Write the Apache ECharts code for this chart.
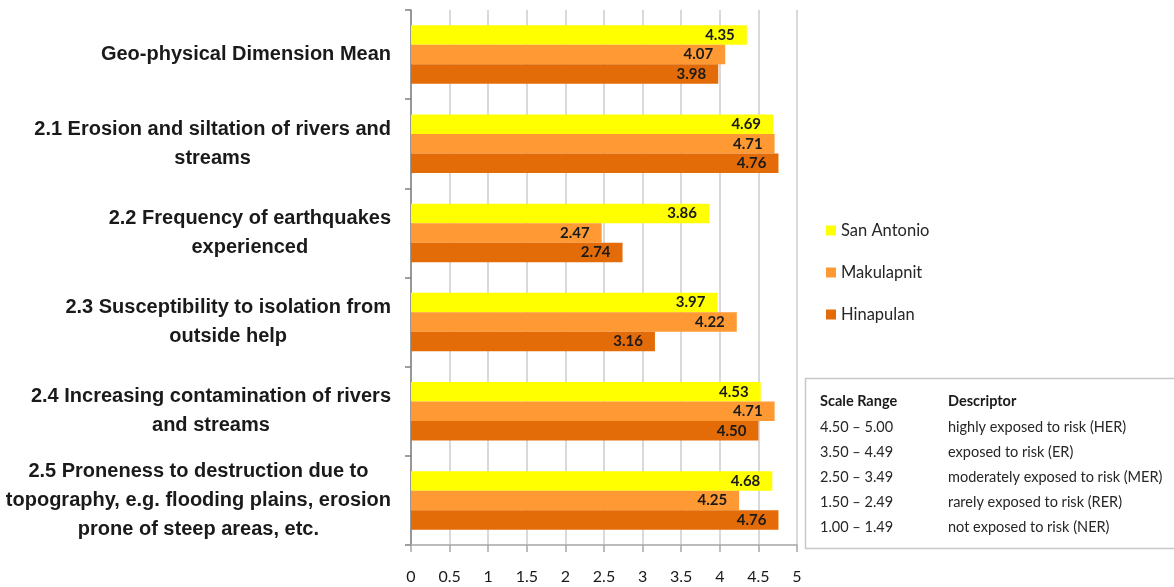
<!DOCTYPE html>
<html>
<head>
<meta charset="utf-8">
<script src="https://cdn.jsdelivr.net/npm/echarts@6/dist/echarts.min.js"></script>
<style>
  html, body { margin: 0; padding: 0; background: #ffffff; }
  #chart { width: 1174px; height: 587px; }
</style>
</head>
<body>
<div id="chart"></div>
<script>
// Geo-physical dimension indicators, one row per indicator
const categories = [
  'Geo-physical Dimension Mean',
  '2.1 Erosion and siltation of rivers and\nstreams',
  '2.2 Frequency of earthquakes\nexperienced',
  '2.3 Susceptibility to isolation from\noutside help',
  '2.4 Increasing contamination of rivers\nand streams',
  '2.5 Proneness to destruction due to\ntopography, e.g. flooding plains, erosion\nprone of steep areas, etc.'
];

const seriesNames = ['San Antonio', 'Makulapnit', 'Hinapulan'];
const sanAntonio = [4.35, 4.69, 3.86, 3.97, 4.53, 4.68];
const makulapnit = [4.07, 4.71, 2.47, 4.22, 4.71, 4.25];
const hinapulan  = [3.98, 4.76, 2.74, 3.16, 4.50, 4.76];

const xTicks = [0, 0.5, 1, 1.5, 2, 2.5, 3, 3.5, 4, 4.5, 5];

// Interpretation scale
const scaleHeader = ['Scale Range', 'Descriptor'];
const scaleRanges = ['4.50 – 5.00', '3.50 – 4.49', '2.50 – 3.49', '1.50 – 2.49', '1.00 – 1.49'];
const descriptors = [
  'highly exposed to risk (HER)',
  'exposed to risk (ER)',
  'moderately exposed to risk (MER)',
  'rarely exposed to risk (RER)',
  'not exposed to risk (NER)'
];

const colors = ['#FFFF00', '#FF9933', '#E36C09'];
const bodyFont = 'Lato, "Open Sans", sans-serif';

const chart = echarts.init(document.getElementById('chart'), null, { renderer: 'canvas' });

const seriesData = [sanAntonio, makulapnit, hinapulan];

const series = seriesNames.map((name, i) => ({
  name: name,
  type: 'bar',
  data: seriesData[i],
  barWidth: 19.5,
  barGap: '0%',
  itemStyle: { color: colors[i] },
  label: {
    show: true,
    position: 'insideRight',
    distance: 12,
    color: '#1a1a1a',
    fontFamily: bodyFont,
    fontWeight: 'bold',
    fontSize: 15,
    formatter: p => Number(p.value).toFixed(2)
  }
}));

// Scale table drawn as graphic text
const tableX = 820, descX = 948, headerY = 401, rowStep = 25;
const tableFont = '14.5px ' + bodyFont;
const tableGraphics = [
  {
    type: 'rect',
    shape: { x: 805.5, y: 378.5, width: 380, height: 170 },
    style: { fill: 'none', stroke: '#c8c8c8', lineWidth: 1.5 },
    silent: true
  },
  {
    type: 'text', x: tableX, y: headerY,
    style: { text: scaleHeader[0], font: 'bold ' + tableFont, fill: '#1a1a1a', textVerticalAlign: 'middle' }
  },
  {
    type: 'text', x: descX, y: headerY,
    style: { text: scaleHeader[1], font: 'bold ' + tableFont, fill: '#1a1a1a', textVerticalAlign: 'middle' }
  }
];
scaleRanges.forEach((r, i) => {
  const y = headerY + 26 + i * rowStep;
  tableGraphics.push({
    type: 'text', x: tableX, y: y,
    style: { text: r, font: tableFont, fill: '#262626', textVerticalAlign: 'middle' }
  });
  tableGraphics.push({
    type: 'text', x: descX, y: y,
    style: { text: descriptors[i], font: tableFont, fill: '#262626', textVerticalAlign: 'middle' }
  });
});

const option = {
  backgroundColor: '#ffffff',
  animation: false,
  grid: {
    left: 411, right: 377, top: 10, bottom: 42,
    containLabel: false,
    outerBoundsMode: 'none'
  },
  legend: {
    orient: 'vertical',
    left: 821,
    top: 217,
    itemWidth: 10,
    itemHeight: 10,
    itemGap: 25,
    icon: 'rect',
    data: seriesNames,
    textStyle: { fontFamily: bodyFont, fontSize: 16.5, color: '#262626' }
  },
  xAxis: {
    type: 'value',
    min: 0,
    max: 5,
    interval: 0.5,
    axisLine: { show: true, lineStyle: { color: '#a6a6a6', width: 1.5 } },
    axisTick: { show: true, length: 7, lineStyle: { color: '#a6a6a6', width: 1.5 } },
    splitLine: { show: true, lineStyle: { color: '#d9d9d9', width: 2 } },
    axisLabel: {
      margin: 24,
      fontFamily: bodyFont,
      fontSize: 16,
      color: '#1a1a1a',
      formatter: v => (xTicks.indexOf(v) >= 0 ? String(v) : '')
    }
  },
  yAxis: {
    type: 'category',
    inverse: true,
    data: categories,
    axisLine: { show: true, lineStyle: { color: '#808080', width: 1.5 } },
    axisTick: { show: true, length: 6, lineStyle: { color: '#808080', width: 1.5 } },
    axisLabel: {
      margin: 20,
      align: 'right',
      formatter: v => v.split('\n').map(line => '{c|' + line + '}').join('\n'),
      rich: {
        c: {
          align: 'center',
          fontFamily: '"Liberation Sans", Arial, sans-serif',
          fontWeight: 'bold',
          fontSize: 20,
          lineHeight: 29,
          color: '#1a1a1a'
        }
      }
    }
  },
  graphic: tableGraphics,
  series: series
};

chart.setOption(option);
</script>
</body>
</html>
